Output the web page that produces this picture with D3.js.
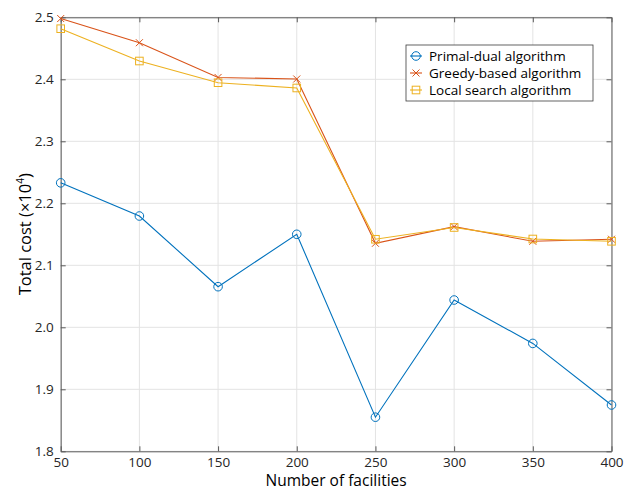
<!DOCTYPE html>
<html>
<head>
<meta charset="utf-8">
<script src="https://cdn.jsdelivr.net/npm/d3@7"></script>
<style>
  body { margin: 0; background: #fff; }
  text { font-family: "Open Sans", sans-serif; }
</style>
</head>
<body>
<div id="chart"></div>
<script>
// data
var facilities = [50, 100, 150, 200, 250, 300, 350, 400];
var primalDual = [2.233, 2.1795, 2.0655, 2.150, 1.855, 2.044, 1.974, 1.8747];
var greedyBased = [2.498, 2.459, 2.403, 2.4005, 2.1355, 2.1623, 2.1387, 2.142];
var localSearch = [2.4816, 2.4295, 2.3945, 2.386, 2.142, 2.1610, 2.1424, 2.1387];
var seriesNames = ["Primal-dual algorithm", "Greedy-based algorithm", "Local search algorithm"];
var xTicks = [50, 100, 150, 200, 250, 300, 350, 400];
var yTicks = [1.8, 1.9, 2.0, 2.1, 2.2, 2.3, 2.4, 2.5];

var W = 633, H = 491;
var margin = {top: 17.3, right: 21.5, bottom: 39.7, left: 60.7},
    width = W - margin.left - margin.right,
    height = H - margin.top - margin.bottom;

var colors = ["#0072BD", "#D95319", "#EDB120"];
var markers = ["circle", "cross", "square"];

var svg = d3.select("#chart")
  .append("svg")
    .attr("width", W)
    .attr("height", H)
  .append("g")
    .attr("transform", "translate(" + margin.left + "," + margin.top + ")");

var x = d3.scaleLinear().domain([50, 400]).range([0, width]);
var y = d3.scaleLinear().domain([1.8, 2.5]).range([height, 0]);

// grid
svg.append("g").selectAll("line").data(xTicks).join("line")
  .attr("x1", d => x(d)).attr("x2", d => x(d))
  .attr("y1", 0).attr("y2", height)
  .attr("stroke", "#e3e3e3").attr("stroke-width", 1);
svg.append("g").selectAll("line").data(yTicks).join("line")
  .attr("x1", 0).attr("x2", width)
  .attr("y1", d => y(d)).attr("y2", d => y(d))
  .attr("stroke", "#e3e3e3").attr("stroke-width", 1);

// axes, ticks pointing inward like matlab
var axisColor = "#5a5a5a";
function styleAxis(g) {
  g.selectAll(".domain").attr("stroke", axisColor);
  g.selectAll(".tick line").attr("stroke", axisColor);
  g.selectAll(".tick text").attr("fill", "#262626").attr("font-size", "13.5px");
}
svg.append("g")
  .attr("transform", "translate(0," + height + ")")
  .call(d3.axisBottom(x).tickValues(xTicks).tickSizeInner(-5).tickSizeOuter(0).tickPadding(6))
  .call(styleAxis);
svg.append("g")
  .call(d3.axisLeft(y).tickValues(yTicks).tickFormat(d3.format(".1f")).tickSizeInner(-5).tickSizeOuter(0).tickPadding(7))
  .call(styleAxis);
svg.append("g")
  .call(d3.axisTop(x).tickValues(xTicks).tickFormat("").tickSizeInner(-5).tickSizeOuter(0))
  .call(styleAxis);
svg.append("g")
  .attr("transform", "translate(" + width + ",0)")
  .call(d3.axisRight(y).tickValues(yTicks).tickFormat("").tickSizeInner(-5).tickSizeOuter(0))
  .call(styleAxis);

// draw one marker
function drawMarker(g, type, color) {
  if (type == "circle") {
    g.append("circle").attr("r", 4.3).attr("fill", "none").attr("stroke", color).attr("stroke-width", 1);
  } else if (type == "square") {
    g.append("rect").attr("x", -3.8).attr("y", -3.8).attr("width", 7.6).attr("height", 7.6)
      .attr("fill", "none").attr("stroke", color).attr("stroke-width", 1);
  } else {
    g.append("path").attr("d", "M-3.5,-3.5L3.5,3.5M-3.5,3.5L3.5,-3.5")
      .attr("stroke", color).attr("stroke-width", 1);
  }
}

var allSeries = [primalDual, greedyBased, localSearch];
var line = d3.line().x((d, i) => x(facilities[i])).y(d => y(d));

allSeries.forEach(function(vals, k) {
  svg.append("path")
    .datum(vals)
    .attr("d", line)
    .attr("fill", "none")
    .attr("stroke", colors[k])
    .attr("stroke-width", 1.1);
  svg.append("g").selectAll("g").data(vals).join("g")
    .attr("transform", (d, i) => "translate(" + x(facilities[i]) + "," + y(d) + ")")
    .each(function() { drawMarker(d3.select(this), markers[k], colors[k]); });
});

// axis labels
svg.append("text")
  .attr("x", width / 2)
  .attr("y", height + 35.2)
  .attr("text-anchor", "middle")
  .attr("font-size", "15.5px")
  .attr("fill", "#000")
  .text("Number of facilities");

var yl = svg.append("text")
  .attr("transform", "translate(" + (-30) + "," + (height / 2) + ") rotate(-90)")
  .attr("text-anchor", "middle")
  .attr("font-size", "16.5px")
  .attr("fill", "#000");
yl.append("tspan").text("Total cost (\u00d710");
yl.append("tspan").attr("font-size", "10px").attr("dy", -7).text("4");
yl.append("tspan").attr("dy", 7).text(")");

// legend
var lg = svg.append("g").attr("transform", "translate(" + (406 - margin.left) + "," + (45 - margin.top) + ")");
lg.append("rect")
  .attr("width", 187).attr("height", 56)
  .attr("fill", "#fff").attr("stroke", "#3c3c3c").attr("stroke-width", 0.8);
seriesNames.forEach(function(name, k) {
  var row = lg.append("g").attr("transform", "translate(0," + (11 + k * 17) + ")");
  row.append("line").attr("x1", 4).attr("x2", 16).attr("y1", 0).attr("y2", 0)
    .attr("stroke", colors[k]).attr("stroke-width", 1.1);
  var m = row.append("g").attr("transform", "translate(10,0)");
  drawMarker(m, markers[k], colors[k]);
  row.append("text")
    .attr("x", 23)
    .attr("y", 0)
    .attr("dy", "0.35em")
    .attr("font-size", "13.5px")
    .attr("fill", "#000")
    .text(name);
});
</script>
</body>
</html>
